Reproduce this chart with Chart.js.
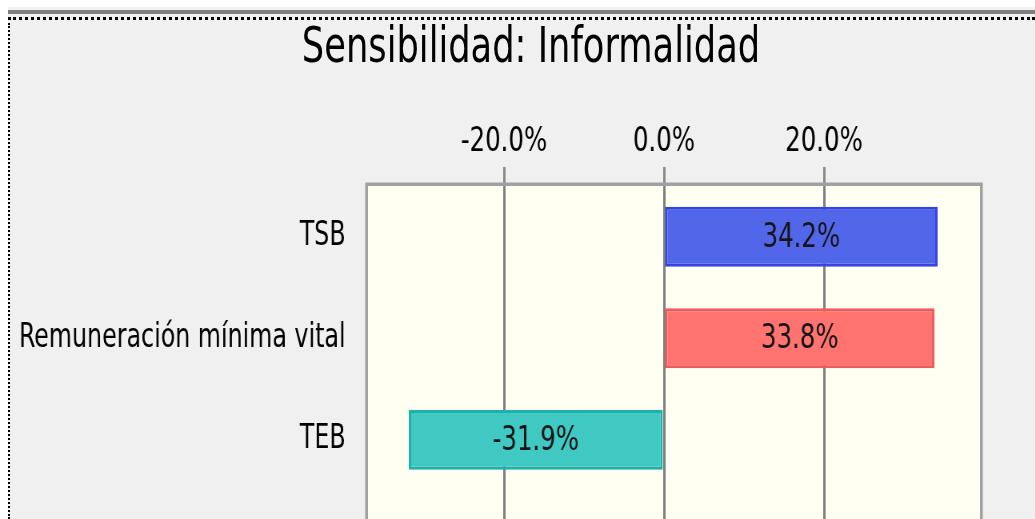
<!DOCTYPE html>
<html>
<head>
<meta charset="utf-8">
<script src="https://cdn.jsdelivr.net/npm/chart.js@4.4.0/dist/chart.umd.min.js"></script>
<style>
  html, body { margin: 0; padding: 0; background: #ffffff; overflow: hidden; }
  #wrap { position: relative; width: 1035px; height: 519px; overflow: hidden; }
  #panel { position: absolute; left: 8px; top: 7px; right: 0; bottom: 0; background: #f0f0f0; }
  #bar { position: absolute; left: 8px; top: 10px; right: 0; height: 4px; background: #7f7f7f; }
  #dotsTop { position: absolute; left: 8px; top: 17px; right: 0; border-top: 3px dotted #000; }
  #dotsLeft { position: absolute; left: 8px; top: 23px; bottom: 0; border-left: 2px dotted #000; }
  /* texto angosto como el original */
  canvas { position: absolute; left: 0; top: 0; transform: scaleX(0.8); transform-origin: 0 0; }
  #title {
    position: absolute; left: 531px; top: 17px; white-space: nowrap;
    transform: translateX(-50%) scaleX(0.8);
    font: 49px 'DejaVu Sans Condensed', sans-serif; color: #000;
  }
</style>
</head>
<body>
<div id="wrap">
  <div id="panel"></div>
  <div id="bar"></div>
  <div id="dotsTop"></div>
  <div id="dotsLeft"></div>
  <canvas id="chart" width="1294" height="640"></canvas>
  <div id="title">Sensibilidad: Informalidad</div>
</div>
<script>
const categories = ["TSB", "Remuneración mínima vital", "TEB"];
const values = [34.2, 33.8, -31.9];
const tickValues = [-20, 0, 20];
const fills = ["#5266ea", "#ff7370", "#40c8c2"];
const borders = ["#3444e4", "#f05a5a", "#1fb0a8"];

const FONT = "'DejaVu Sans Condensed', sans-serif";

// fondo marfil y borde del área de gráfico
const plotFrame = {
  id: 'plotFrame',
  beforeDraw(chart) {
    const { ctx, chartArea: a } = chart;
    ctx.save();
    ctx.fillStyle = '#fffff2';
    ctx.fillRect(a.left, a.top, a.right - a.left, a.bottom - a.top);
    ctx.restore();
  },
  afterDraw(chart) {
    const { ctx, chartArea: a } = chart;
    ctx.save();
    ctx.strokeStyle = '#a0a0a0';
    ctx.lineWidth = 3.5;
    ctx.beginPath();
    ctx.moveTo(a.left - 1.75, a.bottom + 10);
    ctx.lineTo(a.left - 1.75, a.top - 1.75);
    ctx.lineTo(a.right + 1.75, a.top - 1.75);
    ctx.lineTo(a.right + 1.75, a.bottom + 10);
    ctx.stroke();
    ctx.restore();
  }
};

// etiquetas de valor dentro de cada barra
const barLabels = {
  id: 'barLabels',
  afterDatasetsDraw(chart) {
    const { ctx } = chart;
    const meta = chart.getDatasetMeta(0);
    ctx.save();
    ctx.font = '34px ' + FONT;
    ctx.fillStyle = '#151515';
    ctx.textAlign = 'center';
    ctx.textBaseline = 'middle';
    meta.data.forEach((bar, i) => {
      const x = (bar.x + bar.base) / 2;
      ctx.fillText(values[i].toFixed(1) + '%', x, bar.y + 1);
    });
    ctx.restore();
  }
};

new Chart(document.getElementById('chart'), {
  type: 'bar',
  data: {
    datasets: [{
      data: values.map((v, i) => ({ x: v, y: i })),
      backgroundColor: fills,
      borderColor: borders,
      borderWidth: 3,
      borderSkipped: false,
      barPercentage: 0.59,
      categoryPercentage: 1
    }]
  },
  options: {
    indexAxis: 'y',
    responsive: false,
    animation: false,
    layout: { padding: { left: 0, right: 69, top: 0, bottom: 0 } },
    plugins: {
      legend: { display: false },
      tooltip: { enabled: false },
      title: { display: false }
    },
    scales: {
      x: {
        type: 'linear',
        position: 'top',
        min: -37,
        max: 39.5,
        afterBuildTicks: s => { s.ticks = tickValues.map(v => ({ value: v })); },
        afterFit: s => { s.height = 186; },
        border: { display: false },
        grid: { color: '#808080', lineWidth: 3, tickLength: 19, tickColor: '#8a8a8a' },
        ticks: {
          color: '#000',
          font: { family: FONT, size: 34 },
          padding: 4,
          callback: v => v.toFixed(1) + '%'
        }
      },
      y: {
        type: 'linear',
        offset: false,
        reverse: true,
        min: -0.5,
        max: 3.5,
        afterBuildTicks: s => { s.ticks = categories.map((c, i) => ({ value: i })); },
        afterFit: s => { s.width = 460; },
        border: { display: false },
        grid: { display: false, drawTicks: false },
        ticks: {
          color: '#000',
          font: { family: FONT, size: 33 },
          padding: 28,
          autoSkip: false,
          callback: v => categories[v] ?? ''
        }
      }
    }
  },
  plugins: [plotFrame, barLabels]
});
</script>
</body>
</html>
